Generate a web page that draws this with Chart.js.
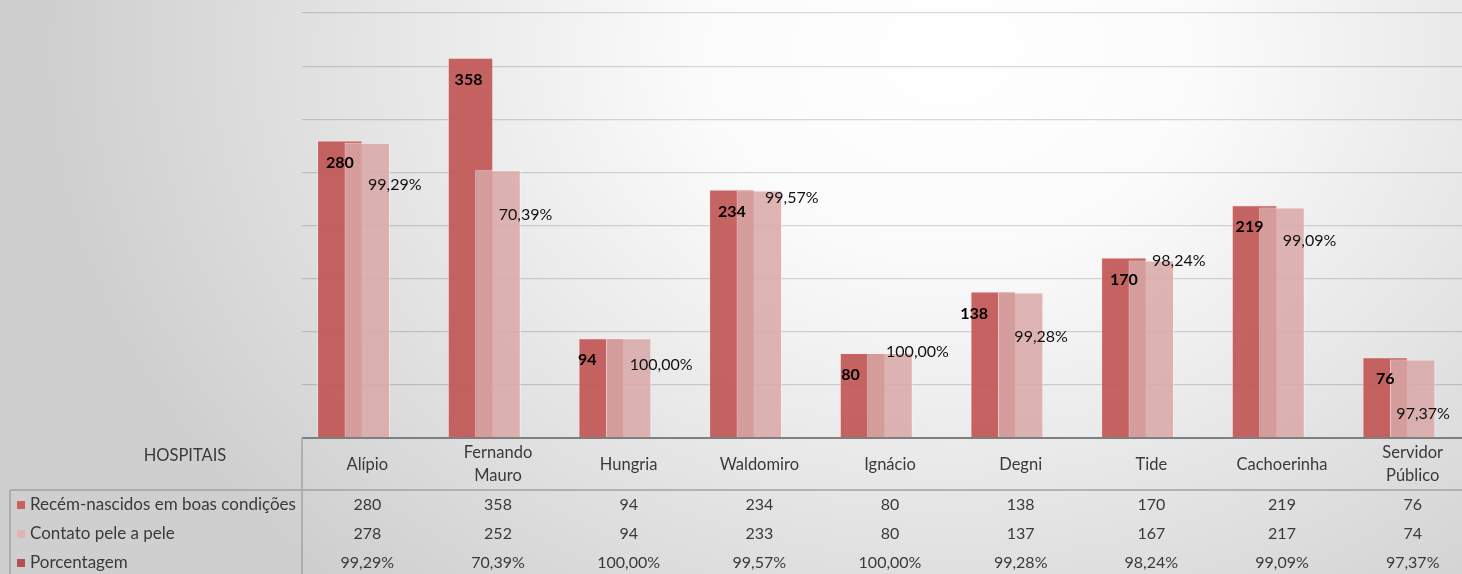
<!DOCTYPE html>
<html>
<head>
<meta charset="utf-8">
<script src="https://cdn.jsdelivr.net/npm/chart.js@4/dist/chart.umd.min.js"></script>
<style>
  html, body { margin:0; padding:0; width:1462px; height:574px; overflow:hidden; }
  #wrap {
    position:relative; width:1462px; height:574px; overflow:hidden;
    background: radial-gradient(ellipse 900px 720px at 950px 50px, #ffffff 0%, #fbfbfb 28%, #cfcfcf 100%);
  }
  canvas { display:block; }
</style>
</head>
<body>
<div id="wrap"><canvas id="c" width="1480" height="574" style="width:1480px;height:574px"></canvas></div>
<script>
// ---------- DATA ----------
const categories = ['Alípio', ['Fernando', 'Mauro'], 'Hungria', 'Waldomiro', 'Ignácio', 'Degni', 'Tide', 'Cachoerinha', ['Servidor', 'Público']];
const recemNascidos = [280, 358, 94, 234, 80, 138, 170, 219, 76];
const contatoPele = [278, 252, 94, 233, 80, 137, 167, 217, 74];
const porcentagem = [99.29, 70.39, 100.00, 99.57, 100.00, 99.28, 98.24, 99.09, 97.37];
const seriesNames = ['Recém-nascidos em boas condições', 'Contato pele a pele', 'Porcentagem'];
const tableHeader = 'HOSPITAIS';
const yMin = 0, yMax = 400, yStep = 50;

// ---------- STYLE ----------
const FONT = 'Lato, "Open Sans", sans-serif';
const colors = {
  dark: 'rgba(192,82,82,0.9)',
  light: 'rgba(216,167,167,0.85)',
  legend: ['rgb(205,95,95)', 'rgb(225,180,180)', 'rgb(178,82,82)'],
  table: '#3a3a3a',
  tableLine: '#a3a3a3'
};
// label nudges (pixels) for manually placed data labels
const valueLabelDx = [0, -2, -14, 0, -12, -19, 0, -5, 0];
const pctLabelDx = [0, 0, 5, 5, 0, -7, 0, 0, -17];
const pctLabelDy = [42, 45, 27, 7, -1, 44, 0, 33, 54];

const fmtPct = v => v.toFixed(2).replace('.', ',') + '%';

const reorderPlugin = {
  id: 'reorder',
  beforeDatasetDraw(chart, args) {
    if (args.index === 0) return false;
    if (args.index === 1) chart.getDatasetMeta(0).controller.draw();
  }
};

const labelsPlugin = {
  id: 'labels',
  afterDatasetsDraw(chart) {
    const ctx = chart.ctx;
    const m0 = chart.getDatasetMeta(0), m1 = chart.getDatasetMeta(1), m2 = chart.getDatasetMeta(2);
    ctx.save();
    ctx.textAlign = 'center';
    ctx.textBaseline = 'middle';
    ctx.fillStyle = '#000';
    ctx.font = 'bold 16px ' + FONT;
    m0.data.forEach((el, i) => {
      ctx.fillText(String(recemNascidos[i]), el.x + valueLabelDx[i], el.y + 22);
    });
    ctx.font = '16px ' + FONT;
    ctx.fillStyle = '#111';
    m2.data.forEach((el, i) => {
      ctx.fillText(fmtPct(porcentagem[i]), el.x + pctLabelDx[i], m1.data[i].y + pctLabelDy[i]);
    });
    ctx.restore();
  }
};

const tablePlugin = {
  id: 'table',
  afterDraw(chart) {
    const ctx = chart.ctx;
    const xs = chart.scales.x;
    const area = chart.chartArea;
    const W = chart.width;
    ctx.save();
    ctx.strokeStyle = colors.tableLine;
    ctx.lineWidth = 1.5;
    ctx.beginPath();
    ctx.moveTo(10, 490); ctx.lineTo(W, 490);
    ctx.moveTo(10, 490); ctx.lineTo(10, 574);
    ctx.moveTo(area.left, area.bottom); ctx.lineTo(area.left, 574);
    ctx.stroke();

    ctx.fillStyle = colors.table;
    ctx.textAlign = 'center';
    ctx.textBaseline = 'middle';
    ctx.font = '16.5px ' + FONT;
    ctx.fillText(tableHeader, 185, 456);

    categories.forEach((c, i) => {
      const x = xs.getPixelForValue(i);
      ctx.font = '16.5px ' + FONT;
      if (Array.isArray(c)) {
        ctx.fillText(c[0], x, 453);
        ctx.fillText(c[1], x, 476);
      } else {
        ctx.fillText(c, x, 465);
      }
      ctx.font = '16px ' + FONT;
      ctx.fillText(String(recemNascidos[i]), x, 505);
      ctx.fillText(String(contatoPele[i]), x, 534);
      ctx.fillText(fmtPct(porcentagem[i]), x, 563);
    });

    const rowY = [505, 534, 563];
    ctx.textAlign = 'left';
    ctx.font = '17px ' + FONT;
    seriesNames.forEach((n, k) => {
      ctx.fillStyle = colors.legend[k];
      ctx.fillRect(17, rowY[k] - 4, 8, 8);
      ctx.fillStyle = colors.table;
      ctx.fillText(n, 30, rowY[k]);
    });
    ctx.restore();
  }
};

new Chart(document.getElementById('c'), {
  type: 'bar',
  data: {
    labels: categories,
    datasets: [
      { label: seriesNames[0], data: recemNascidos, backgroundColor: colors.dark, borderColor: 'rgba(255,225,225,0.55)', borderWidth: 1 },
      { label: seriesNames[1], data: contatoPele, backgroundColor: colors.light, borderColor: 'rgba(255,240,240,0.8)', borderWidth: 1 },
      { label: seriesNames[2], data: porcentagem.map(v => v / 100), backgroundColor: 'rgba(0,0,0,0)', borderWidth: 0 }
    ]
  },
  options: {
    responsive: false,
    animation: false,
    devicePixelRatio: 1,
    layout: { padding: { left: 302, right: 2, top: 13, bottom: 136 } },
    datasets: { bar: { categoryPercentage: 0.631, barPercentage: 1.655 } },
    plugins: { legend: { display: false }, tooltip: { enabled: false } },
    scales: {
      x: { display: false },
      y: {
        min: yMin, max: yMax,
        ticks: { display: false, stepSize: yStep },
        border: { display: false },
        grid: {
          drawTicks: false,
          color: c => c.tick.value === 0 ? '#7f7f7f' : 'rgba(0,0,0,0.15)',
          lineWidth: c => c.tick.value === 0 ? 2 : 1.2
        },
        afterFit: s => { s.width = 0; }
      }
    }
  },
  plugins: [reorderPlugin, labelsPlugin, tablePlugin]
});
</script>
</body>
</html>
